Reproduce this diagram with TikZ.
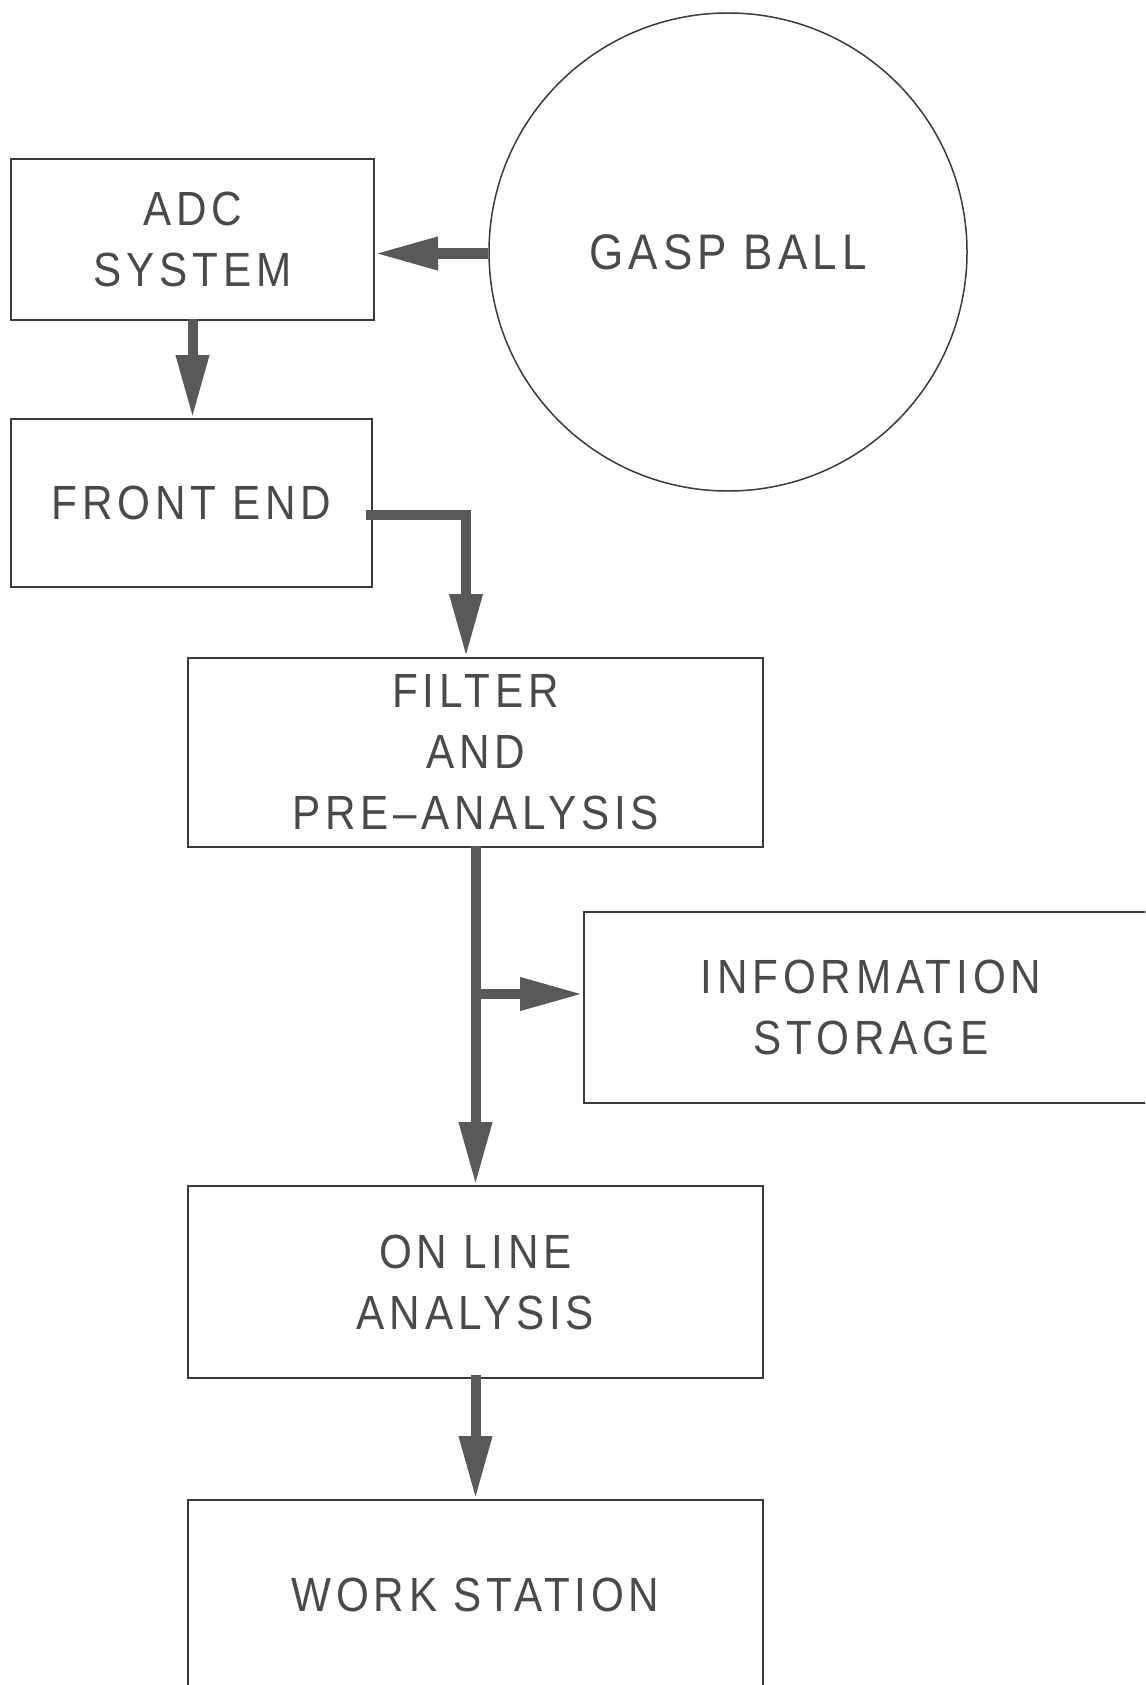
\documentclass[tikz,border=0pt]{standalone}
\usepackage{fontspec}
\setmainfont{Liberation Sans}[FakeStretch=0.88, LetterSpace=10]
\usetikzlibrary{arrows.meta}

\definecolor{boxline}{HTML}{3A3A3A}
\definecolor{flow}{HTML}{595959}
\definecolor{label}{HTML}{4A4A4A}

\tikzset{
  unit/.style={draw=boxline, line width=1pt, rectangle, inner sep=0pt,
    text=label, align=center, font=\fontsize{24}{30.5}\selectfont},
  ball/.style={draw=boxline, line width=0.75pt, circle, inner sep=0pt,
    text=label, font=\fontsize{25}{30.5}\selectfont},
  flowarrow/.style={draw=flow, line width=5pt, line cap=butt, line join=miter,
    -{Triangle[length=31.5pt, width=15.5pt, fill=flow]}},
}

\begin{document}
\begin{tikzpicture}[x=0.5pt, y=-0.5pt]
  \useasboundingbox (0,0) rectangle (1145,1685);
  \clip (0,0) rectangle (1145,1685);

  % detector and processing stages
  \node[ball, minimum size=239pt] (gasp) at (728,252) {GASP BALL};
  \node[unit, minimum width=181.5pt, minimum height=80.5pt] (adc) at (192.5,239.5) {ADC\\SYSTEM};
  \node[unit, minimum width=180.5pt, minimum height=84pt] (fe) at (191.5,503) {FRONT END};
  \node[unit, minimum width=287.5pt, minimum height=94.5pt] (filter) at (475.5,752.5) {FILTER\\AND\\PRE--ANALYSIS};
  \node[unit, minimum width=287pt, minimum height=95.5pt] (info) at (871,1007.5) {INFORMATION\\STORAGE};
  \node[unit, minimum width=287.5pt, minimum height=96pt] (online) at (475.5,1282) {ON LINE\\ANALYSIS};
  \node[unit, minimum width=287.5pt, minimum height=95pt] (ws) at (475.5,1595) {WORK STATION};

  % branch point on the main data line
  \coordinate (split) at (475.5,994);

  % data flow
  \draw[flowarrow] ([yshift=-0.75pt]gasp.west) -- ([yshift=-0.75pt]gasp.west -| adc.east);
  \draw[flowarrow] ([yshift=1pt]adc.south) -- (adc.south |- fe.north);
  \draw[flowarrow] ([xshift=-3.5pt,yshift=-6pt]fe.east) -| ([xshift=-4.75pt]filter.north);
  \draw[flowarrow] ([yshift=1pt]filter.south) -- (online.north);
  \draw[flowarrow] (split) -- (split -| info.west);
  \draw[flowarrow] ([yshift=2pt]online.south) -- (ws.north);
\end{tikzpicture}
\end{document}
